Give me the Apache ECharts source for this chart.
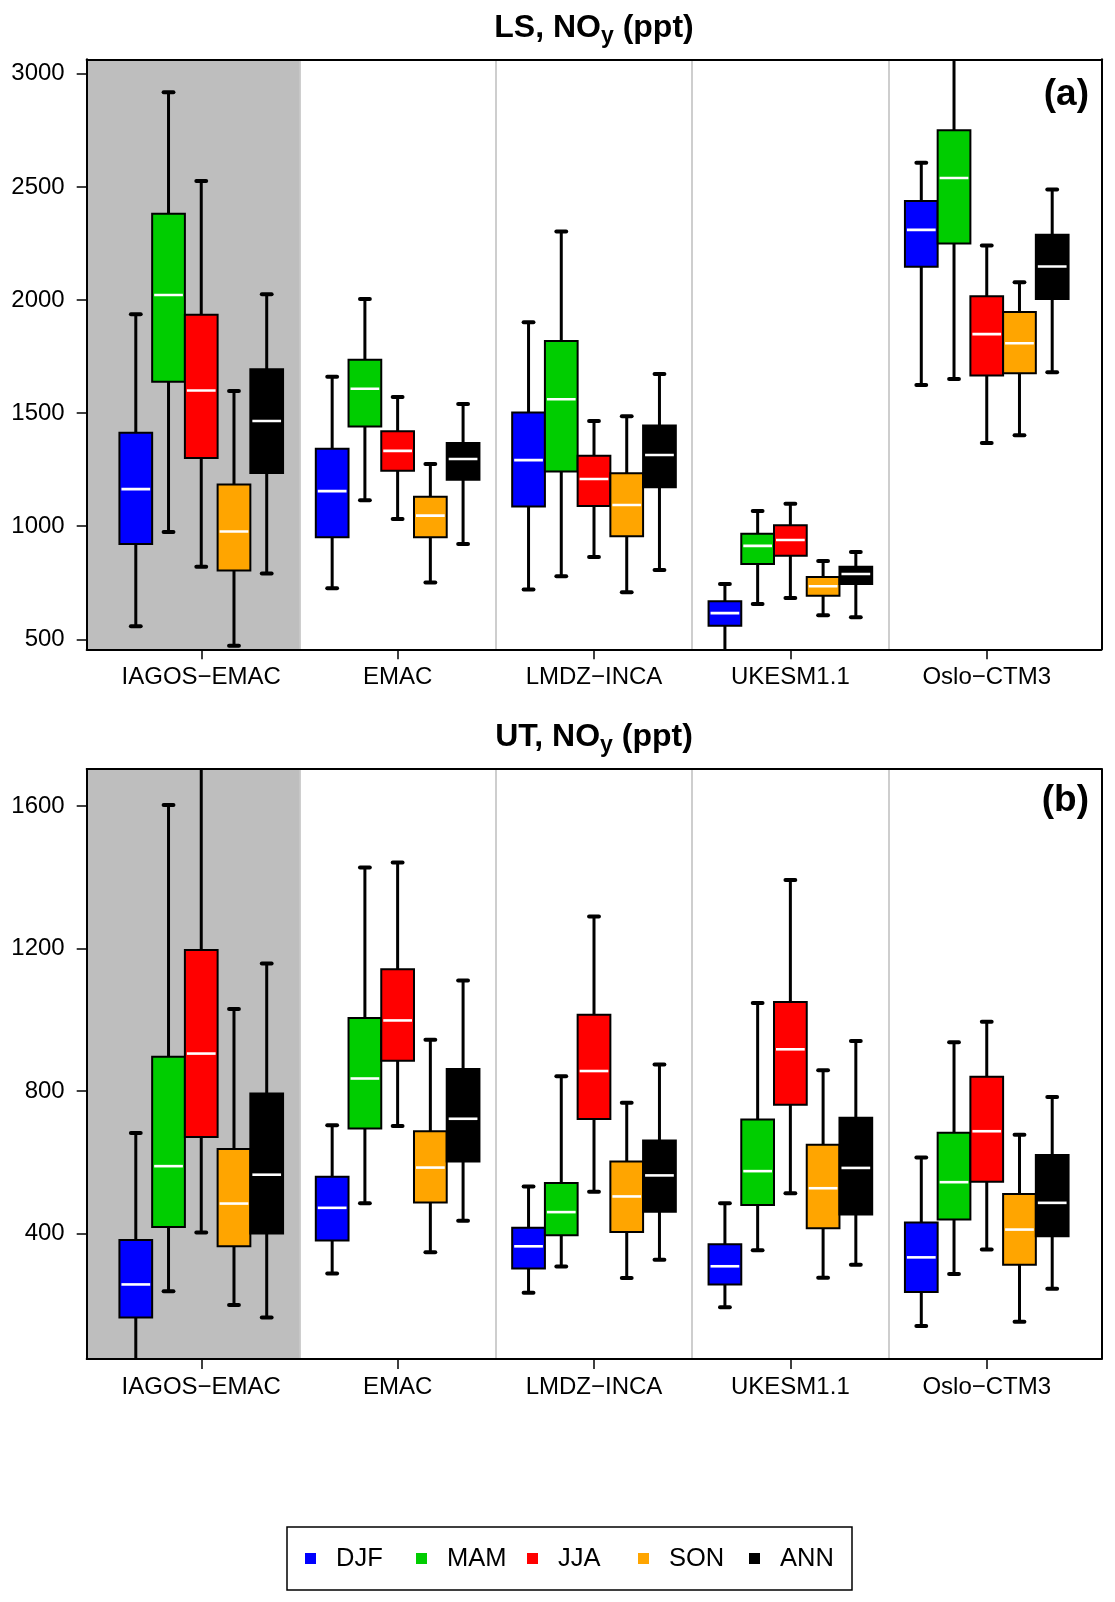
<!DOCTYPE html>
<html><head><meta charset="utf-8">
<script src="https://cdn.jsdelivr.net/npm/echarts@6/dist/echarts.min.js"></script>
<style>html,body{margin:0;padding:0;background:#fff}#c{width:1115px;height:1602px}</style>
</head><body><div id="c"></div>
<script>
// ---------- data ----------
const groups = ['IAGOS\u2212EMAC', 'EMAC', 'LMDZ\u2212INCA', 'UKESM1.1', 'Oslo\u2212CTM3'];
const seasons = ['DJF', 'MAM', 'JJA', 'SON', 'ANN'];
const seasonColors = ['#0000FF', '#00CD00', '#FF0000', '#FFA500', '#000000'];
const groupCenters = [3, 9, 15, 21, 27];
const separators = [6, 12, 18, 24];
const yTicksLS = [500, 1000, 1500, 2000, 2500, 3000];
const yTicksUT = [400, 800, 1200, 1600];

// [min, q1, median, q3, max] for each group (IAGOS-EMAC, EMAC, LMDZ-INCA, UKESM1.1, Oslo-CTM3)
const LS_DJF = [[558, 921, 1164, 1413, 1937], [726, 951, 1155, 1343, 1661], [720, 1087, 1292, 1503, 1902], [420, 560, 616, 668, 745], [1624, 2147, 2310, 2438, 2607]];
const LS_MAM = [[974, 1639, 2022, 2381, 2918], [1115, 1441, 1608, 1736, 2004], [779, 1242, 1561, 1819, 2303], [656, 833, 913, 967, 1067], [1651, 2250, 2539, 2750, 3150]];
const LS_JJA = [[821, 1302, 1600, 1935, 2526], [1032, 1245, 1333, 1420, 1571], [864, 1089, 1209, 1312, 1465], [683, 869, 939, 1004, 1099], [1368, 1666, 1849, 2017, 2241]];
const LS_SON = [[472, 804, 977, 1184, 1598], [751, 951, 1047, 1130, 1275], [708, 956, 1094, 1234, 1486], [606, 693, 735, 776, 846], [1402, 1676, 1809, 1947, 2078]];
const LS_ANN = [[791, 1235, 1465, 1694, 2025], [921, 1205, 1297, 1368, 1540], [806, 1172, 1315, 1445, 1673], [598, 745, 789, 821, 886], [1681, 2004, 2148, 2288, 2488]];

const UT_DJF = [[30, 164, 257, 382, 682], [288, 380, 472, 559, 704], [234, 302, 364, 416, 532], [193, 257, 308, 370, 485], [140, 236, 333, 431, 613]];
const UT_MAM = [[238, 418, 589, 896, 1603], [485, 695, 835, 1005, 1427], [307, 395, 460, 542, 841], [353, 480, 575, 720, 1047], [286, 439, 544, 683, 937]];
const UT_JJA = [[403, 671, 905, 1196, 1760], [702, 885, 998, 1142, 1441], [517, 721, 856, 1014, 1290], [513, 761, 917, 1050, 1392], [355, 545, 687, 840, 994]];
const UT_SON = [[199, 364, 484, 637, 1030], [347, 487, 585, 687, 944], [275, 404, 504, 602, 767], [276, 415, 527, 649, 858], [152, 312, 411, 511, 677]];
const UT_ANN = [[164, 400, 565, 793, 1158], [436, 602, 722, 862, 1110], [326, 461, 563, 661, 874], [312, 453, 584, 725, 940], [245, 392, 486, 620, 783]];

const LS_ALL = [LS_DJF, LS_MAM, LS_JJA, LS_SON, LS_ANN];
const UT_ALL = [UT_DJF, UT_MAM, UT_JJA, UT_SON, UT_ANN];

// ---------- chart ----------
const FONT = 'Liberation Sans, Arial, Helvetica, sans-serif';
const chart = echarts.init(document.getElementById('c'), null, {renderer: 'canvas'});

function renderBox(params, api) {
  const x = api.value(0);
  const pts = [1, 2, 3, 4, 5].map(i => api.coord([x, api.value(i)]));
  const cx = pts[0][0];
  const w = api.size([1, 0])[0];
  const capW = w * 0.3;
  const color = api.visual('color');
  const yMin = pts[0][1], yQ1 = pts[1][1], yMed = pts[2][1], yQ3 = pts[3][1], yMax = pts[4][1];
  return {
    type: 'group',
    children: [
      {type: 'line', shape: {x1: cx, y1: yMax, x2: cx, y2: yMin}, style: {stroke: '#000', lineWidth: 3}},
      {type: 'line', shape: {x1: cx - capW / 2, y1: yMax, x2: cx + capW / 2, y2: yMax}, style: {stroke: '#000', lineWidth: 4, lineCap: 'round'}},
      {type: 'line', shape: {x1: cx - capW / 2, y1: yMin, x2: cx + capW / 2, y2: yMin}, style: {stroke: '#000', lineWidth: 4, lineCap: 'round'}},
      {type: 'rect', shape: {x: cx - w / 2, y: yQ3, width: w, height: yQ1 - yQ3}, style: {fill: color, stroke: '#000', lineWidth: 2}},
      {type: 'line', shape: {x1: cx - w / 2 + 2, y1: yMed, x2: cx + w / 2 - 2, y2: yMed}, style: {stroke: '#fff', lineWidth: 2.6}}
    ]
  };
}

function makeSeries(all, xIdx, yIdx) {
  return seasons.map((name, s) => {
    const data = groups.map((g, gi) => [gi * 6 + s + 1].concat(all[s][gi]));
    const ser = {
      name: name,
      type: 'custom',
      xAxisIndex: xIdx,
      yAxisIndex: yIdx,
      clip: true,
      silent: true,
      itemStyle: {color: seasonColors[s]},
      encode: {x: 0, y: [1, 2, 3, 4, 5]},
      renderItem: renderBox,
      data: data
    };
    if (s === 0) {
      ser.markArea = {silent: true, itemStyle: {color: '#BEBEBE'}, data: [[{xAxis: -0.5}, {xAxis: 6}]]};
      ser.markLine = {
        silent: true, symbol: ['none', 'none'], label: {show: false},
        lineStyle: {color: '#BEBEBE', width: 1.5, type: 'solid'},
        data: separators.map(v => ({xAxis: v}))
      };
    }
    return ser;
  });
}

function xAxes(gridIndex) {
  return [
    {
      gridIndex: gridIndex, type: 'value', min: -0.5, max: 30.5, position: 'bottom', z: 10,
      axisLine: {show: true, onZero: false, lineStyle: {color: '#000', width: 2}},
      axisTick: {show: true, customValues: groupCenters, length: 10, lineStyle: {color: '#000', width: 1.5}},
      axisLabel: {show: true, customValues: groupCenters, formatter: v => groups[groupCenters.indexOf(v)],
        fontSize: 24, color: '#000', margin: 16, fontFamily: FONT},
      splitLine: {show: false}
    },
    {
      gridIndex: gridIndex, type: 'value', min: -0.5, max: 30.5, position: 'top', z: 10,
      axisLine: {show: true, onZero: false, lineStyle: {color: '#000', width: 2}},
      axisTick: {show: false}, axisLabel: {show: false}, splitLine: {show: false}
    }
  ];
}

function yAxes(gridIndex, min, max, ticks) {
  return [
    {
      gridIndex: gridIndex, type: 'value', min: min, max: max, position: 'left', z: 10,
      axisLine: {show: true, onZero: false, lineStyle: {color: '#000', width: 2}},
      axisTick: {show: true, customValues: ticks, length: 10, lineStyle: {color: '#000', width: 1.5}},
      axisLabel: {show: true, customValues: ticks, formatter: v => String(v), fontSize: 24, color: '#000', margin: 22, fontFamily: FONT},
      splitLine: {show: false}
    },
    {
      gridIndex: gridIndex, type: 'value', min: min, max: max, position: 'right', z: 10,
      axisLine: {show: true, onZero: false, lineStyle: {color: '#000', width: 2}},
      axisTick: {show: false}, axisLabel: {show: false}, splitLine: {show: false}
    }
  ];
}

function titleText(prefix, y) {
  return {
    type: 'text', x: 594, y: y, z: 20,
    style: {
      text: '{m|' + prefix + ', NO}{s|y}{m| (ppt)}',
      align: 'center', verticalAlign: 'middle',
      rich: {
        m: {fontSize: 32, fontWeight: 'bold', fontFamily: FONT, fill: '#000', lineHeight: 40, verticalAlign: 'middle'},
        s: {fontSize: 23, fontWeight: 'bold', fontFamily: FONT, fill: '#000', lineHeight: 27, verticalAlign: 'bottom'}
      }
    }
  };
}

const option = {
  animation: false,
  backgroundColor: '#fff',
  color: seasonColors,
  grid: [
    {left: 86.7, top: 59.3, width: 1014.6, height: 590, containLabel: false},
    {left: 86.7, top: 768.9, width: 1014.6, height: 590, containLabel: false}
  ],
  xAxis: xAxes(0).concat(xAxes(1)),
  yAxis: yAxes(0, 456, 3064, yTicksLS).concat(yAxes(1, 48, 1704, yTicksUT)),
  legend: {
    show: true,
    data: seasons,
    orient: 'horizontal',
    left: 287, top: 1527,
    icon: 'rect', itemWidth: 11, itemHeight: 11, itemGap: 10,
    padding: [17.5, 2, 17.5, 18],
    borderColor: '#000', borderWidth: 1.5, borderRadius: 0,
    selectedMode: false,
    textStyle: {fontSize: 25.5, color: '#000', fontFamily: FONT, width: 70, lineHeight: 28, padding: [0, 0, 0, 15]}
  },
  graphic: [
    titleText('LS', 28),
    titleText('UT', 737),
    {type: 'text', x: 1089, y: 94.5, z: 20, style: {text: '(a)', align: 'right', verticalAlign: 'middle', fontSize: 37, fontWeight: 'bold', fontFamily: FONT, fill: '#000'}},
    {type: 'text', x: 1089, y: 801, z: 20, style: {text: '(b)', align: 'right', verticalAlign: 'middle', fontSize: 37, fontWeight: 'bold', fontFamily: FONT, fill: '#000'}}
  ],
  series: makeSeries(LS_ALL, 0, 0).concat(makeSeries(UT_ALL, 2, 2))
};
chart.setOption(option);
</script>
</body></html>
